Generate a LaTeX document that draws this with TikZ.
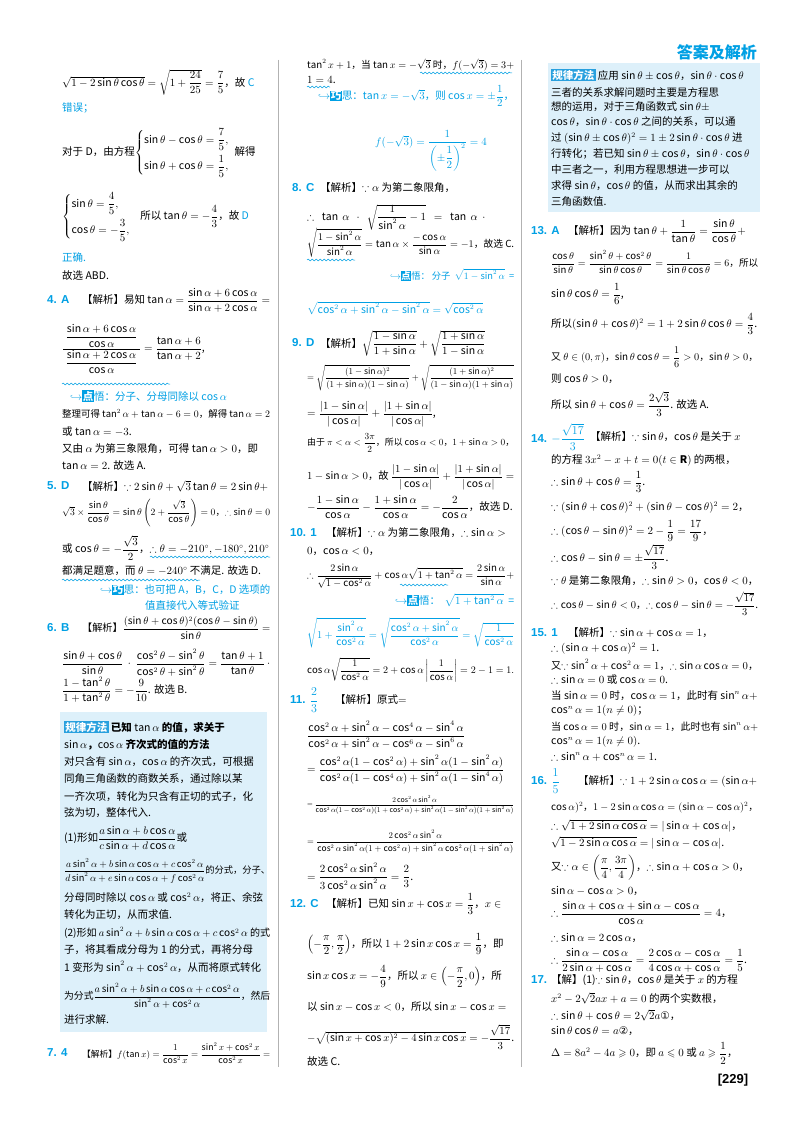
\documentclass[tikz,border=0pt]{standalone}
\usepackage{amsmath,amssymb}
\usepackage{fontspec}
\setmainfont{Noto Sans CJK SC}
\newfontfamily\lab{Liberation Sans}
\newfontfamily\djv{DejaVu Sans}
\usetikzlibrary{decorations.pathmorphing}
\definecolor{cy}{RGB}{0,160,228}
\definecolor{boxbg}{RGB}{221,240,250}
\definecolor{labbg}{RGB}{40,160,222}
\tikzset{
 txt/.style={anchor=west,inner sep=0pt,font=\fontsize{10.5}{12}\selectfont},
 num/.style={anchor=west,inner sep=0pt,text=cy,font=\lab\bfseries\fontsize{11.5}{12}\selectfont},
 wave/.style={cy,decorate,decoration={snake,amplitude=0.9pt,segment length=4pt},line width=0.5pt},
 rule/.style={gray!60,line width=0.8pt}
}
\newsavebox\mybox
\newdimen\maxw
\newcommand\T[3]{%
 \ifdim#1pt<278pt \maxw=\dimexpr270pt-#1pt\relax\else
 \ifdim#1pt<521pt \maxw=\dimexpr514pt-#1pt\relax\else \maxw=\dimexpr758pt-#1pt\relax\fi\fi
 \node[txt] at (#1pt,-#2pt) {\sbox\mybox{#3}\ifdim\wd\mybox>\maxw\resizebox{\maxw}{!}{\usebox\mybox}\else\usebox\mybox\fi};}
\newcommand\W[4]{\T{#1}{#2}{#4}}
\newcommand\N[3]{\node[num] at (#1pt,-#2pt) {#3};}
\newcommand\Wv[3]{\draw[wave] (#1pt,-#3pt) -- (#2pt,-#3pt);}
\newcommand\ic[1]{{\setlength\fboxsep{0.6pt}\colorbox{cy}{\textcolor{white}{\bfseries #1}}}}
\newcommand\lbl{{\setlength\fboxsep{1.2pt}\colorbox{labbg}{\textcolor{white}{\bfseries\itshape 规律方法}}}}
\newcommand\cz{\textcolor{cy}}
\begin{document}
\begin{tikzpicture}[x=1pt,y=1pt]
\useasboundingbox (0,0) rectangle (800,-1132);
\fill[white] (0,0) rectangle (800,-1132);
% header
\node[anchor=east,inner sep=0,text=cy,font=\bfseries\fontsize{16}{18}\selectfont] (hd) at (757,-52) {答案及解析};
% dividers
\draw[rule] (278,-60) -- (278,-1067);
\draw[rule] (521,-60) -- (521,-1067);
% boxes
\fill[boxbg] (60,-712) rectangle (267,-1032);
\fill[boxbg] (548,-63) rectangle (760,-212);

%%%%%%%%%% column 1
\T{62}{82}{$\sqrt{1-2\sin\theta\cos\theta}=\sqrt{1+\dfrac{24}{25}}=\dfrac75$，故 \cz{C}}
\T{62}{108}{\cz{错误；}}
\T{62}{153}{对于 D，由方程$\left\{\begin{array}{@{}l}\sin\theta-\cos\theta=\dfrac75,\\[3mm]\sin\theta+\cos\theta=\dfrac15,\end{array}\right.$解得}
\T{62}{217}{$\left\{\begin{array}{@{}l}\sin\theta=\dfrac45,\\[3mm]\cos\theta=-\dfrac35,\end{array}\right.$\ \ 所以 $\tan\theta=-\dfrac43$，故 \cz{D}}
\T{62}{257}{\cz{正确.}}
\T{62}{276}{故选 ABD.}
\N{47}{300}{4. A}
\T{82}{300}{【解析】易知 $\tan\alpha=\dfrac{\sin\alpha+6\cos\alpha}{\sin\alpha+2\cos\alpha}=$}
\T{62}{349}{$\dfrac{\ \dfrac{\sin\alpha+6\cos\alpha}{\cos\alpha}\ }{\dfrac{\sin\alpha+2\cos\alpha}{\cos\alpha}}=\dfrac{\tan\alpha+6}{\tan\alpha+2}$,}
\Wv{62}{170}{384}
\T{70}{396}{\cz{$\hookrightarrow$}\ic{点}\cz{悟：分子、分母同除以 $\cos\alpha$}}
\T{62}{414}{整理可得 $\tan^2\alpha+\tan\alpha-6=0$，解得 $\tan\alpha=2$}
\T{62}{432}{或 $\tan\alpha=-3$.}
\T{62}{449}{又由 $\alpha$ 为第三象限角，可得 $\tan\alpha>0$，即}
\T{62}{466}{$\tan\alpha=2$. 故选 A.}
\N{47}{486}{5. D}
\T{82}{486}{【解析】$\because 2\sin\theta+\sqrt3\tan\theta=2\sin\theta+$}
\T{62}{513}{$\sqrt3\times\dfrac{\sin\theta}{\cos\theta}=\sin\theta\left(2+\dfrac{\sqrt3}{\cos\theta}\right)=0$，$\therefore\sin\theta=0$}
\T{62}{548}{或 $\cos\theta=-\dfrac{\sqrt3}{2}$，$\therefore\theta=-210^\circ,-180^\circ,210^\circ$}
\Wv{150}{270}{557}
\T{62}{571}{都满足题意，而 $\theta=-240^\circ$ 不满足. 故选 D.}
\Wv{62}{200}{580}
\T{100}{590}{\cz{$\hookrightarrow$}\ic{巧}\cz{思：也可把 A，B，C，D 选项的}}
\T{145}{605}{\cz{值直接代入等式验证}}
\N{47}{628}{6. B}
\T{82}{628}{【解析】$\dfrac{(\sin\theta+\cos\theta)^2(\cos\theta-\sin\theta)}{\sin\theta}=$}
\T{62}{663}{$\dfrac{\sin\theta+\cos\theta}{\sin\theta}\ \cdot\ \dfrac{\cos^2\theta-\sin^2\theta}{\cos^2\theta+\sin^2\theta}=\dfrac{\tan\theta+1}{\tan\theta}\ \cdot$}
\T{62}{690}{$\dfrac{1-\tan^2\theta}{1+\tan^2\theta}=-\dfrac{9}{10}$. 故选 B.}
\T{64}{727}{\lbl\ \textbf{已知 $\tan\alpha$ 的值，求关于}}
\T{64}{745}{\textbf{$\sin\alpha$，$\cos\alpha$ 齐次式的值的方法}}
\T{64}{762}{对只含有 $\sin\alpha$，$\cos\alpha$ 的齐次式，可根据}
\T{64}{779}{同角三角函数的商数关系，通过除以某}
\T{64}{797}{一齐次项，转化为只含有正切的式子，化}
\T{64}{813}{弦为切，整体代入.}
\T{64}{838}{(1)形如$\dfrac{a\sin\alpha+b\cos\alpha}{c\sin\alpha+d\cos\alpha}$或}
\T{64}{871}{$\dfrac{a\sin^2\alpha+b\sin\alpha\cos\alpha+c\cos^2\alpha}{d\sin^2\alpha+e\sin\alpha\cos\alpha+f\cos^2\alpha}$的分式，分子、}
\T{64}{898}{分母同时除以 $\cos\alpha$ 或 $\cos^2\alpha$，将正、余弦}
\T{64}{915}{转化为正切，从而求值.}
\T{64}{933}{(2)形如 $a\sin^2\alpha+b\sin\alpha\cos\alpha+c\cos^2\alpha$ 的式}
\T{64}{950}{子，将其看成分母为 1 的分式，再将分母}
\T{64}{967}{1 变形为 $\sin^2\alpha+\cos^2\alpha$，从而将原式转化}
\T{64}{996}{为分式$\dfrac{a\sin^2\alpha+b\sin\alpha\cos\alpha+c\cos^2\alpha}{\sin^2\alpha+\cos^2\alpha}$，然后}
\T{64}{1020}{进行求解.}
\N{47}{1053}{7. 4}
\T{82}{1053}{【解析】$f(\tan x)=\dfrac{1}{\cos^2x}=\dfrac{\sin^2x+\cos^2x}{\cos^2x}=$}

%%%%%%%%%% column 2
\T{307}{65}{$\tan^2x+1$，当 $\tan x=-\sqrt3$ 时，$f(-\sqrt3)=3+$}
\Wv{420}{512}{73}
\T{307}{80}{$1=4$.}
\Wv{307}{330}{87}
\T{318}{96}{\cz{$\hookrightarrow$}\ic{巧}\cz{思：$\tan x=-\sqrt3$，则 $\cos x=\pm\dfrac12$，}}
\T{375}{151}{\cz{$f(-\sqrt3)=\dfrac{1}{\left(\pm\dfrac12\right)^2}=4$}}
\N{292}{188}{8. C}
\T{320}{188}{【解析】$\because\alpha$ 为第二象限角，}
\T{307}{217}{$\therefore\ \ \tan\ \alpha\ \ \cdot\ \ \sqrt{\dfrac{1}{\sin^2\alpha}-1}\ \ =\ \ \tan\ \alpha\ \ \cdot$}
\T{307}{243}{$\sqrt{\dfrac{1-\sin^2\alpha}{\sin^2\alpha}}=\tan\alpha\times\dfrac{-\cos\alpha}{\sin\alpha}=-1$，故选 C.}
\Wv{307}{355}{260}
\T{390}{275}{\cz{$\hookrightarrow$}\ic{点}\cz{悟：\ 分子\ \ $\sqrt{1-\sin^2\alpha}$\ \ =}}
\T{307}{308}{\cz{$\sqrt{\cos^2\alpha+\sin^2\alpha-\sin^2\alpha}=\sqrt{\cos^2\alpha}$}}
\N{292}{343}{9. D}
\T{320}{343}{【解析】$\sqrt{\dfrac{1-\sin\alpha}{1+\sin\alpha}}+\sqrt{\dfrac{1+\sin\alpha}{1-\sin\alpha}}$}
\T{307}{378}{$=\sqrt{\dfrac{(1-\sin\alpha)^2}{(1+\sin\alpha)(1-\sin\alpha)}}+\sqrt{\dfrac{(1+\sin\alpha)^2}{(1-\sin\alpha)(1+\sin\alpha)}}$}
\T{307}{414}{$=\dfrac{|1-\sin\alpha|}{|\cos\alpha|}+\dfrac{|1+\sin\alpha|}{|\cos\alpha|}$,}
\T{307}{443}{由于 $\pi<\alpha<\dfrac{3\pi}{2}$，所以 $\cos\alpha<0$，$1+\sin\alpha>0$，}
\T{307}{477}{$1-\sin\alpha>0$，故 $\dfrac{|1-\sin\alpha|}{|\cos\alpha|}+\dfrac{|1+\sin\alpha|}{|\cos\alpha|}=$}
\T{307}{507}{$-\dfrac{1-\sin\alpha}{\cos\alpha}-\dfrac{1+\sin\alpha}{\cos\alpha}=-\dfrac{2}{\cos\alpha}$，故选 D.}
\N{290}{533}{10. 1}
\T{326}{533}{【解析】$\because\alpha$ 为第二象限角，$\therefore\sin\alpha>$}
\T{307}{552}{$0$，$\cos\alpha<0$，}
\T{307}{576}{$\therefore\dfrac{2\sin\alpha}{\sqrt{1-\cos^2\alpha}}+\cos\alpha\sqrt{1+\tan^2\alpha}=\dfrac{2\sin\alpha}{\sin\alpha}+$}
\Wv{400}{448}{585}
\T{395}{600}{\cz{$\hookrightarrow$}\ic{点}\cz{悟：\ \ $\sqrt{1+\tan^2\alpha}$\ \ =}}
\T{307}{633}{\cz{$\sqrt{1+\dfrac{\sin^2\alpha}{\cos^2\alpha}}=\sqrt{\dfrac{\cos^2\alpha+\sin^2\alpha}{\cos^2\alpha}}=\sqrt{\dfrac{1}{\cos^2\alpha}}$}}
\T{307}{670}{$\cos\alpha\sqrt{\dfrac{1}{\cos^2\alpha}}=2+\cos\alpha\left|\dfrac{1}{\cos\alpha}\right|=2-1=1.$}
\N{290}{700}{11. $\dfrac{2}{3}$}
\T{335}{700}{【解析】原式$=$}
\T{307}{735}{$\dfrac{\cos^2\alpha+\sin^2\alpha-\cos^4\alpha-\sin^4\alpha}{\cos^2\alpha+\sin^2\alpha-\cos^6\alpha-\sin^6\alpha}$}
\T{307}{770}{$=\dfrac{\cos^2\alpha(1-\cos^2\alpha)+\sin^2\alpha(1-\sin^2\alpha)}{\cos^2\alpha(1-\cos^4\alpha)+\sin^2\alpha(1-\sin^4\alpha)}$}
\T{307}{805}{$=\dfrac{2\cos^2\alpha\sin^2\alpha}{\cos^2\alpha(1-\cos^2\alpha)(1+\cos^2\alpha)+\sin^2\alpha(1-\sin^2\alpha)(1+\sin^2\alpha)}$}
\T{307}{842}{$=\dfrac{2\cos^2\alpha\sin^2\alpha}{\cos^2\alpha\sin^2\alpha(1+\cos^2\alpha)+\sin^2\alpha\cos^2\alpha(1+\sin^2\alpha)}$}
\T{307}{876}{$=\dfrac{2\cos^2\alpha\sin^2\alpha}{3\cos^2\alpha\sin^2\alpha}=\dfrac23$.}
\N{290}{904}{12. C}
\T{326}{904}{【解析】已知 $\sin x+\cos x=\dfrac13$，$x\in$}
\T{307}{944}{$\left(-\dfrac{\pi}{2},\dfrac{\pi}{2}\right)$，所以 $1+2\sin x\cos x=\dfrac19$，即}
\T{307}{976}{$\sin x\cos x=-\dfrac49$，所以 $x\in\left(-\dfrac{\pi}{2},0\right)$，所}
\T{307}{1007}{以 $\sin x-\cos x<0$，所以 $\sin x-\cos x=$}
\T{307}{1037}{$-\sqrt{(\sin x+\cos x)^2-4\sin x\cos x}=-\dfrac{\sqrt{17}}{3}$.}
\T{307}{1062}{故选 C.}

%%%%%%%%%% column 3
\T{551}{75}{\lbl\ 应用 $\sin\theta\pm\cos\theta$，$\sin\theta\cdot\cos\theta$}
\T{551}{92}{三者的关系求解问题时主要是方程思}
\T{551}{107}{想的运用，对于三角函数式 $\sin\theta\pm$}
\T{551}{122}{$\cos\theta$，$\sin\theta\cdot\cos\theta$ 之间的关系，可以通}
\T{551}{138}{过 $(\sin\theta\pm\cos\theta)^2=1\pm2\sin\theta\cdot\cos\theta$ 进}
\T{551}{154}{行转化；若已知 $\sin\theta\pm\cos\theta$，$\sin\theta\cdot\cos\theta$}
\T{551}{170}{中三者之一，利用方程思想进一步可以}
\T{551}{186}{求得 $\sin\theta$，$\cos\theta$ 的值，从而求出其余的}
\T{551}{202}{三角函数值.}
\N{531}{231}{13. A}
\T{568}{231}{【解析】因为 $\tan\theta+\dfrac{1}{\tan\theta}=\dfrac{\sin\theta}{\cos\theta}+$}
\T{551}{262}{$\dfrac{\cos\theta}{\sin\theta}=\dfrac{\sin^2\theta+\cos^2\theta}{\sin\theta\cos\theta}=\dfrac{1}{\sin\theta\cos\theta}=6$，所以}
\T{551}{294}{$\sin\theta\cos\theta=\dfrac16$,}
\T{551}{324}{所以$(\sin\theta+\cos\theta)^2=1+2\sin\theta\cos\theta=\dfrac43$.}
\T{551}{357}{又 $\theta\in(0,\pi)$，$\sin\theta\cos\theta=\dfrac16>0$，$\sin\theta>0$，}
\T{551}{379}{则 $\cos\theta>0$，}
\T{551}{404}{所以 $\sin\theta+\cos\theta=\dfrac{2\sqrt3}{3}$. 故选 A.}
\N{531}{437}{14. \textcolor{cy}{$-\dfrac{\sqrt{17}}{3}$}}
\T{590}{437}{【解析】$\because\sin\theta$，$\cos\theta$ 是关于 $x$}
\T{551}{460}{的方程 $3x^2-x+t=0(t\in\mathbf R)$ 的两根，}
\T{551}{482}{$\therefore\sin\theta+\cos\theta=\dfrac13$.}
\T{551}{508}{$\because(\sin\theta+\cos\theta)^2+(\sin\theta-\cos\theta)^2=2$，}
\T{551}{531}{$\therefore(\cos\theta-\sin\theta)^2=2-\dfrac19=\dfrac{17}{9}$，}
\T{551}{557}{$\therefore\cos\theta-\sin\theta=\pm\dfrac{\sqrt{17}}{3}$.}
\T{551}{581}{$\because\theta$ 是第二象限角，$\therefore\sin\theta>0$，$\cos\theta<0$，}
\T{551}{604}{$\therefore\cos\theta-\sin\theta<0$，$\therefore\cos\theta-\sin\theta=-\dfrac{\sqrt{17}}{3}$.}
\N{531}{633}{15. 1}
\T{568}{633}{【解析】$\because\sin\alpha+\cos\alpha=1$，}
\T{551}{649}{$\therefore(\sin\alpha+\cos\alpha)^2=1$.}
\T{551}{665}{又$\because\sin^2\alpha+\cos^2\alpha=1$，$\therefore\sin\alpha\cos\alpha=0$，}
\T{551}{680}{$\therefore\sin\alpha=0$ 或 $\cos\alpha=0$.}
\T{551}{696}{当 $\sin\alpha=0$ 时，$\cos\alpha=1$，此时有 $\sin^n\alpha+$}
\T{551}{711}{$\cos^n\alpha=1(n\neq0)$；}
\T{551}{727}{当 $\cos\alpha=0$ 时，$\sin\alpha=1$，此时也有 $\sin^n\alpha+$}
\T{551}{742}{$\cos^n\alpha=1(n\neq0)$.}
\T{551}{757}{$\therefore\sin^n\alpha+\cos^n\alpha=1$.}
\N{531}{781}{16. \textcolor{cy}{$\dfrac15$}}
\T{578}{781}{【解析】$\because 1+2\sin\alpha\cos\alpha=(\sin\alpha+$}
\T{551}{808}{$\cos\alpha)^2$，$1-2\sin\alpha\cos\alpha=(\sin\alpha-\cos\alpha)^2$，}
\T{551}{826}{$\therefore\sqrt{1+2\sin\alpha\cos\alpha}=|\sin\alpha+\cos\alpha|$，}
\T{551}{843}{$\sqrt{1-2\sin\alpha\cos\alpha}=|\sin\alpha-\cos\alpha|$.}
\T{551}{868}{又$\because\alpha\in\left(\dfrac{\pi}{4},\dfrac{3\pi}{4}\right)$，$\therefore\sin\alpha+\cos\alpha>0$，}
\T{551}{891}{$\sin\alpha-\cos\alpha>0$，}
\T{551}{913}{$\therefore\dfrac{\sin\alpha+\cos\alpha+\sin\alpha-\cos\alpha}{\cos\alpha}=4$，}
\T{551}{938}{$\therefore\sin\alpha=2\cos\alpha$，}
\T{551}{960}{$\therefore\dfrac{\sin\alpha-\cos\alpha}{2\sin\alpha+\cos\alpha}=\dfrac{2\cos\alpha-\cos\alpha}{4\cos\alpha+\cos\alpha}=\dfrac15$.}
\N{531}{980}{17.}
\T{551}{980}{【解】(1)$\because\sin\theta$，$\cos\theta$ 是关于 $x$ 的方程}
\T{551}{998}{$x^2-2\sqrt2ax+a=0$ 的两个实数根，}
\T{551}{1015}{$\therefore\sin\theta+\cos\theta=2\sqrt2a${\djv ①}，}
\T{551}{1031}{$\sin\theta\cos\theta=a${\djv ②}，}
\T{551}{1053}{$\Delta=8a^2-4a\geqslant0$，即 $a\leqslant0$ 或 $a\geqslant\dfrac12$，}
\node[anchor=center,inner sep=0,font=\lab\bfseries\fontsize{13}{14}\selectfont] (pg) at (733,-1080) {[229]};
\end{tikzpicture}
\end{document}
